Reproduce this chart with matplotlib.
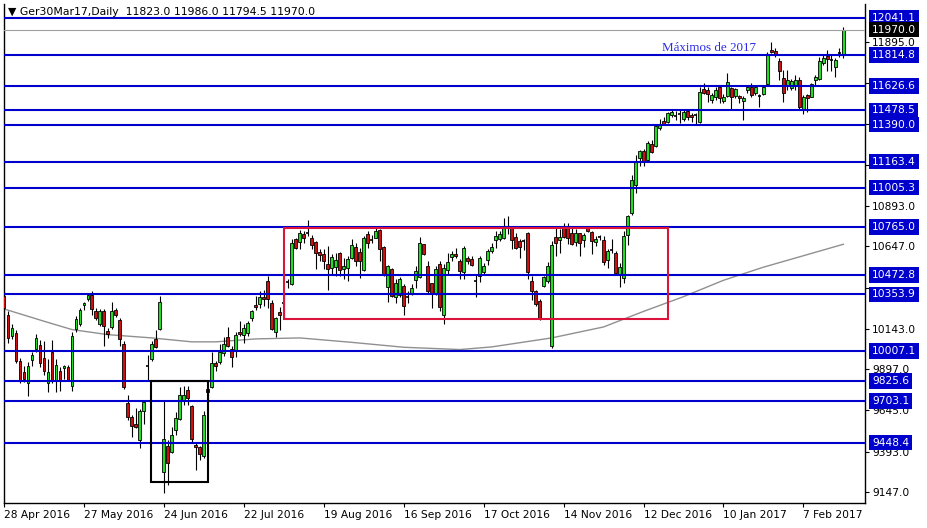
import matplotlib
matplotlib.use("Agg")
import matplotlib.pyplot as plt
import matplotlib.transforms as mtransforms
from matplotlib.patches import Rectangle
import numpy as np

# Velas diárias Ger30Mar17
opens = [10343, 10231, 10098, 10119, 9949, 9882, 9813, 9955, 10023, 10047,
         9966, 9813, 10000, 9833, 9888, 9902, 9911, 9792, 10143, 10174,
         10286, 10323, 10349, 10255, 10170, 10255, 10129, 10155, 10261, 10200,
         10051, 9690, 9604, 9564, 9462, 9643, 9915, 9960, 10084, 10143,
         9272, 9429, 9394, 9527, 9592, 9710, 9768, 9674, 9435, 9421,
         9364, 9776, 9788, 9935, 9939, 9996, 10094, 10020, 10006, 10127,
         10108, 10118, 10210, 10286, 10294, 10339, 10437, 10302, 10122, 10247,
         10302, 10429, 10419, 10690, 10676, 10725, 10731, 10700, 10676, 10614,
         10598, 10537, 10517, 10521, 10608, 10510, 10512, 10578, 10645, 10614,
         10500, 10725, 10686, 10700, 10745, 10645, 10398, 10506, 10337, 10353,
         10408, 10337, 10357, 10439, 10459, 10659, 10527, 10421, 10364, 10541,
         10227, 10500, 10582, 10602, 10557, 10492, 10578, 10571, 10434, 10465,
         10489, 10563, 10618, 10685, 10693, 10700, 10767, 10761, 10706, 10679,
         10679, 10726, 10434, 10373, 10312, 10404, 10434, 10041, 10706, 10685,
         10761, 10761, 10730, 10673, 10726, 10685, 10761, 10734, 10673, 10706,
         10687, 10565, 10622, 10606, 10480, 10453, 10714, 10850, 11023, 11186,
         11231, 11172, 11273, 11257, 11369, 11414, 11409, 11450, 11446, 11456,
         11424, 11474, 11450, 11452, 11409, 11607, 11603, 11542, 11558, 11623,
         11537, 11566, 11613, 11566, 11566, 11537, 11599, 11619, 11586, 11566,
         11578, 11639, 11847, 11843, 11776, 11674, 11633, 11613, 11627, 11660,
         11485, 11572, 11562, 11660, 11668, 11765, 11810, 11782, 11745, 11826,
         11823]
highs = [10367, 10251, 10170, 10139, 9966, 9919, 9939, 10000, 10115, 10078,
         10068, 9960, 10074, 9960, 9908, 9925, 9923, 10123, 10221, 10272,
         10310, 10359, 10374, 10272, 10265, 10265, 10149, 10310, 10272, 10210,
         10068, 9741, 9619, 9658, 9654, 9700, 9982, 10068, 10135, 10343,
         9700, 9466, 9547, 9633, 9788, 9792, 9792, 9680, 9455, 9429,
         9639, 9782, 10000, 9945, 10053, 10094, 10155, 10041, 10122, 10190,
         10176, 10190, 10261, 10343, 10373, 10380, 10469, 10322, 10216, 10278,
         10370, 10445, 10690, 10700, 10745, 10741, 10806, 10717, 10680, 10629,
         10629, 10649, 10598, 10608, 10615, 10578, 10588, 10690, 10670, 10639,
         10710, 10741, 10717, 10761, 10751, 10649, 10533, 10517, 10445, 10460,
         10419, 10374, 10415, 10527, 10704, 10663, 10557, 10425, 10527, 10557,
         10537, 10608, 10619, 10639, 10568, 10649, 10588, 10587, 10475, 10587,
         10547, 10632, 10669, 10740, 10740, 10822, 10832, 10767, 10726, 10693,
         10693, 10734, 10465, 10383, 10326, 10469, 10551, 10679, 10761, 10751,
         10791, 10791, 10761, 10751, 10730, 10730, 10771, 10740, 10710, 10714,
         10708, 10630, 10691, 10616, 10545, 10738, 10840, 11084, 11206, 11237,
         11241, 11288, 11298, 11389, 11424, 11434, 11470, 11481, 11476, 11485,
         11481, 11485, 11464, 11464, 11623, 11647, 11623, 11582, 11623, 11627,
         11578, 11704, 11623, 11613, 11572, 11566, 11627, 11643, 11633, 11578,
         11633, 11831, 11892, 11857, 11796, 11725, 11721, 11668, 11694, 11684,
         11572, 11578, 11647, 11694, 11806, 11816, 11847, 11816, 11796, 11857,
         11986]
lows = [10149, 10057, 10082, 9935, 9813, 9817, 9731, 9915, 10000, 9911,
        9864, 9755, 9813, 9755, 9762, 9837, 9823, 9762, 10123, 10163,
        10261, 10312, 10231, 10200, 10159, 10037, 10088, 10143, 10217, 10041,
        9776, 9588, 9486, 9537, 9415, 9562, 9833, 9945, 10027, 10135,
        9143, 9190, 9384, 9496, 9588, 9680, 9680, 9455, 9282, 9343,
        9353, 9710, 9782, 9884, 9931, 9980, 10033, 9910, 9971, 10098,
        10057, 10098, 10190, 10261, 10271, 10282, 10271, 10139, 10094, 10139,
        10211, 10390, 10411, 10629, 10629, 10670, 10710, 10629, 10506, 10557,
        10506, 10378, 10480, 10466, 10466, 10445, 10435, 10568, 10527, 10455,
        10496, 10639, 10670, 10696, 10557, 10466, 10309, 10337, 10302, 10337,
        10231, 10302, 10353, 10390, 10451, 10594, 10364, 10272, 10353, 10251,
        10170, 10480, 10557, 10574, 10445, 10445, 10537, 10526, 10339, 10428,
        10481, 10536, 10608, 10638, 10679, 10693, 10720, 10628, 10628, 10577,
        10624, 10445, 10322, 10285, 10196, 10400, 10424, 10026, 10587, 10608,
        10700, 10659, 10653, 10649, 10587, 10645, 10734, 10598, 10649, 10685,
        10535, 10514, 10606, 10480, 10398, 10423, 10657, 10840, 10972, 11139,
        11135, 11165, 11216, 11253, 11359, 11389, 11399, 11440, 11420, 11403,
        11415, 11420, 11409, 11395, 11399, 11578, 11531, 11525, 11542, 11525,
        11525, 11558, 11485, 11552, 11525, 11420, 11586, 11558, 11572, 11501,
        11572, 11633, 11827, 11802, 11664, 11531, 11603, 11603, 11599, 11485,
        11456, 11470, 11558, 11633, 11664, 11755, 11715, 11715, 11684, 11806,
        11794.5]
closes = [10272, 10088, 10149, 9945, 9833, 9837, 9919, 9986, 10088, 9935,
          9884, 9882, 9823, 9925, 9827, 9915, 9833, 10102, 10204, 10261,
          10302, 10349, 10265, 10210, 10255, 10159, 10115, 10255, 10225, 10082,
          9786, 9604, 9551, 9547, 9643, 9696, 9915, 10051, 10031, 10308,
          9470, 9327, 9496, 9598, 9741, 9741, 9721, 9470, 9421, 9380,
          9619, 9755, 9935, 9914, 10000, 10053, 10041, 9971, 10106, 10110,
          10149, 10180, 10253, 10275, 10339, 10326, 10326, 10143, 10210, 10231,
          10302, 10429, 10670, 10639, 10731, 10696, 10731, 10655, 10608, 10594,
          10557, 10510, 10584, 10561, 10500, 10527, 10572, 10653, 10557, 10557,
          10700, 10670, 10686, 10741, 10629, 10472, 10527, 10343, 10425, 10449,
          10282, 10337, 10394, 10496, 10670, 10602, 10374, 10357, 10506, 10276,
          10512, 10553, 10598, 10588, 10496, 10639, 10557, 10534, 10434, 10577,
          10530, 10618, 10644, 10710, 10720, 10761, 10767, 10685, 10638, 10644,
          10679, 10489, 10373, 10298, 10210, 10461, 10530, 10653, 10665, 10706,
          10706, 10700, 10659, 10726, 10669, 10714, 10740, 10679, 10689, 10706,
          10549, 10616, 10622, 10484, 10520, 10712, 10830, 11050, 11165, 11231,
          11170, 11277, 11226, 11379, 11389, 11393, 11460, 11470, 11446, 11456,
          11468, 11440, 11436, 11452, 11592, 11586, 11578, 11572, 11603, 11552,
          11562, 11651, 11558, 11609, 11552, 11552, 11619, 11572, 11619, 11566,
          11623, 11822, 11831, 11822, 11715, 11586, 11664, 11654, 11664, 11501,
          11562, 11552, 11639, 11684, 11776, 11796, 11790, 11782, 11786, 11826,
          11970]

# Média móvel (cinza) em alguns pontos
ma_idx = [0, 10, 17, 26, 37, 47, 53, 63, 74, 87, 100, 114, 122, 137, 150, 160, 170, 180, 190, 200, 210]
ma_val = [10265, 10190, 10139, 10108, 10088, 10064, 10064, 10082, 10088, 10061, 10031, 10017,
          10033, 10088, 10155, 10250, 10340, 10440, 10520, 10590, 10660]

# Níveis de suporte / resistência
levels = [12041.1, 11814.8, 11626.6, 11478.5, 11390.0, 11163.4, 11005.3,
          10765.0, 10472.8, 10353.9, 10007.1, 9825.6, 9703.1, 9448.4]
price_ticks = [11895.0, 11645.0, 11394.0, 11144.0, 10893.0, 10647.0, 10395.0,
               10143.0, 9897.0, 9645.0, 9393.0, 9147.0]
# rótulos escondidos atrás das caixas dos níveis
hidden_ticks = [11645.0, 11394.0, 11144.0, 10395.0]
current_price = 11970.0

date_idx = [0, 20, 40, 60, 80, 100, 120, 140, 160, 180, 200]
date_labels = ['28 Apr 2016', '27 May 2016', '24 Jun 2016', '22 Jul 2016', '19 Aug 2016',
               '16 Sep 2016', '17 Oct 2016', '14 Nov 2016', '12 Dec 2016', '10 Jan 2017',
               '7 Feb 2017']

# Caixas (lateralização e fundo)
range_box = (70, 166, 10204, 10762)
bottom_box = (36.8, 51, 9208, 9825)

title = '\u25bc Ger30Mar17,Daily  11823.0 11986.0 11794.5 11970.0'

blue = '#0000cd'
bull = '#1ee01e'
bear = '#cc1010'
fs = 7.7

fig = plt.figure(figsize=(9.28, 5.28), dpi=100)
ax = fig.add_axes([4 / 928, 25 / 528, 861 / 928, 499 / 528])

o = np.array(opens, dtype=float)
h = np.array(highs, dtype=float)
l = np.array(lows, dtype=float)
c = np.array(closes, dtype=float)
x = np.arange(len(o))

# Média móvel
ax.plot(ma_idx, ma_val, color='#909090', lw=1, zorder=1)

# Pavios
ax.vlines(x, l, h, color='black', lw=0.8, zorder=2)

# Corpos
up = c > o
dn = c < o
eq = c == o
ax.bar(x[up], (c - o)[up], bottom=o[up], width=0.72, color=bull,
       edgecolor='black', linewidth=0.6, zorder=3)
ax.bar(x[dn], (o - c)[dn], bottom=c[dn], width=0.72, color=bear,
       edgecolor='black', linewidth=0.6, zorder=3)
ax.hlines(o[eq], x[eq] - 0.4, x[eq] + 0.4, color='black', lw=1.2, zorder=3)

# Linhas horizontais
for lv in levels:
    ax.axhline(lv, color=blue, lw=1.5, zorder=4)
ax.axhline(current_price, color='#a0a0a0', lw=0.8, zorder=3.5)

# Retângulos
x0, x1, y0, y1 = range_box
ax.add_patch(Rectangle((x0, y0), x1 - x0, y1 - y0, fill=False, ec='#dc143c', lw=1.5, zorder=5))
x0, x1, y0, y1 = bottom_box
ax.add_patch(Rectangle((x0, y0), x1 - x0, y1 - y0, fill=False, ec='black', lw=1.5, zorder=5))

ax.text(164.7, 11858, 'Máximos de 2017', color='#2a2ae6', fontsize=9.4,
        family='Liberation Serif', ha='left', va='center', zorder=6)

ax.set_xlim(0.175, 215.4)
ax.set_ylim(9080, 12127)

ax.yaxis.tick_right()
ax.set_yticks(price_ticks)
ax.set_yticklabels(['' if v in hidden_ticks else f'{v:.1f}' for v in price_ticks], fontsize=fs)
ax.tick_params(axis='y', length=3, width=0.8, pad=2, colors='black')
ax.set_xticks(date_idx)
ax.set_xticklabels(date_labels, fontsize=fs, ha='left')
ax.tick_params(axis='x', length=3, width=0.8, pad=2)

for s in ['left', 'right', 'bottom']:
    ax.spines[s].set_linewidth(1.0)
ax.spines['top'].set_visible(False)

# Rótulos dos níveis à direita
tr = mtransforms.blended_transform_factory(ax.transAxes, ax.transData)
lx = 1 + 7 / 861
for lv in levels:
    ax.text(lx, lv, f'{lv:.1f}', transform=tr, color='white', fontsize=fs,
            ha='left', va='center', clip_on=False, zorder=7,
            bbox=dict(boxstyle='square,pad=0.25', fc=blue, ec='none'))
ax.text(lx, current_price, f'{current_price:.1f}', transform=tr, color='white', fontsize=fs,
        ha='left', va='center', clip_on=False, zorder=7,
        bbox=dict(boxstyle='square,pad=0.25', fc='black', ec='none'))

fig.text(8 / 928, 1 - 12 / 528, title, fontsize=7.8, ha='left', va='center')

fig.savefig('out.png', dpi=100)
